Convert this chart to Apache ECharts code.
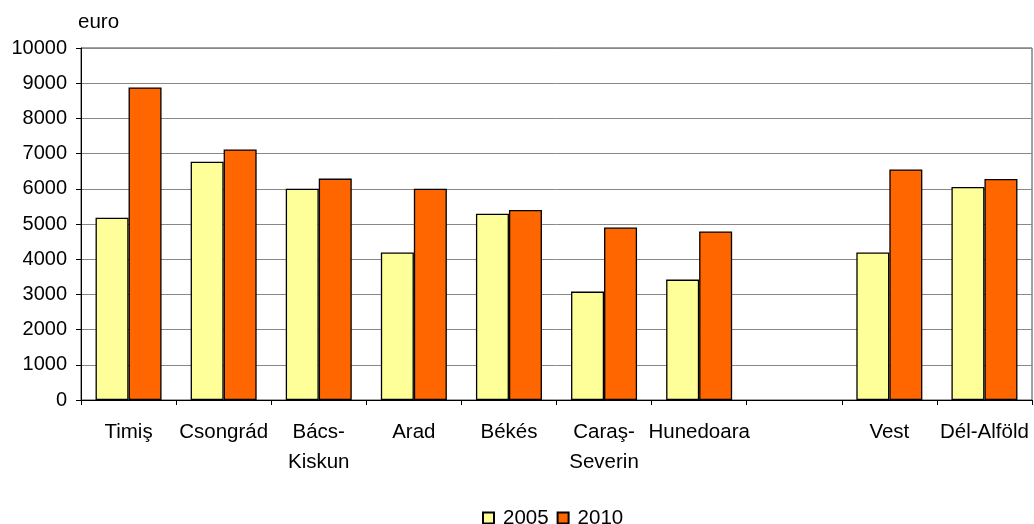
<!DOCTYPE html>
<html><head><meta charset="utf-8">
<script src="https://cdn.jsdelivr.net/npm/echarts@6/dist/echarts.min.js"></script>
<style>html,body{margin:0;padding:0;background:#fff}#c{width:1034px;height:524px}</style>
</head><body><div id="c"></div>
<script>
const categories = ['Timiş','Csongrád','Bács-\nKiskun','Arad','Békés','Caraş-\nSeverin','Hunedoara','','Vest','Dél-Alföld'];
const values2005 = [5180,6770,6000,4190,5290,3080,3420,null,4190,6050];
const values2010 = [8880,7120,6290,6000,5400,4900,4790,null,6550,6280];
const yTicks = {min:0,max:10000,interval:1000};
const seriesNames = ['2005','2010'];

const chart = echarts.init(document.getElementById('c'));
const font = 'Liberation Sans, Arial, sans-serif';
chart.setOption({
  animation:false,
  grid:{left:81,right:2,top:48,bottom:124,show:true,borderColor:'#444',borderWidth:1},
  legend:{
    data:seriesNames, left:477, top:502, itemWidth:11, itemHeight:11, itemGap:8,
    icon:'rect',
    textStyle:{fontFamily:font,fontSize:20.5,color:'#000',padding:[0,0,0,4],lineHeight:22}
  },
  xAxis:{
    type:'category', data:categories,
    axisLine:{lineStyle:{color:'#000',width:1}},
    axisTick:{show:true,length:5,lineStyle:{color:'#000'}},
    axisLabel:{color:'#000',fontFamily:font,fontSize:20.5,margin:17,lineHeight:30,interval:0}
  },
  yAxis:{
    type:'value', min:yTicks.min, max:yTicks.max, interval:yTicks.interval,
    name:'euro', nameLocation:'end', nameGap:15,
    nameTextStyle:{color:'#000',fontFamily:font,fontSize:20.5,align:'left',padding:[0,0,0,-3]},
    axisLine:{show:true,lineStyle:{color:'#000',width:1}},
    axisTick:{show:true,length:5,lineStyle:{color:'#000'}},
    axisLabel:{color:'#000',fontFamily:font,fontSize:20,margin:14,formatter:function(v){return String(v);}},
    splitLine:{lineStyle:{color:'#888',width:1}}
  },
  series:[
    {name:seriesNames[0],type:'bar',data:values2005,barWidth:33,barGap:'0%',
     itemStyle:{color:'#FFFF99',borderColor:'#000',borderWidth:1.3}},
    {name:seriesNames[1],type:'bar',data:values2010,barWidth:33,barGap:'0%',
     itemStyle:{color:'#FF6600',borderColor:'#000',borderWidth:1.3}}
  ]
});
</script></body></html>
